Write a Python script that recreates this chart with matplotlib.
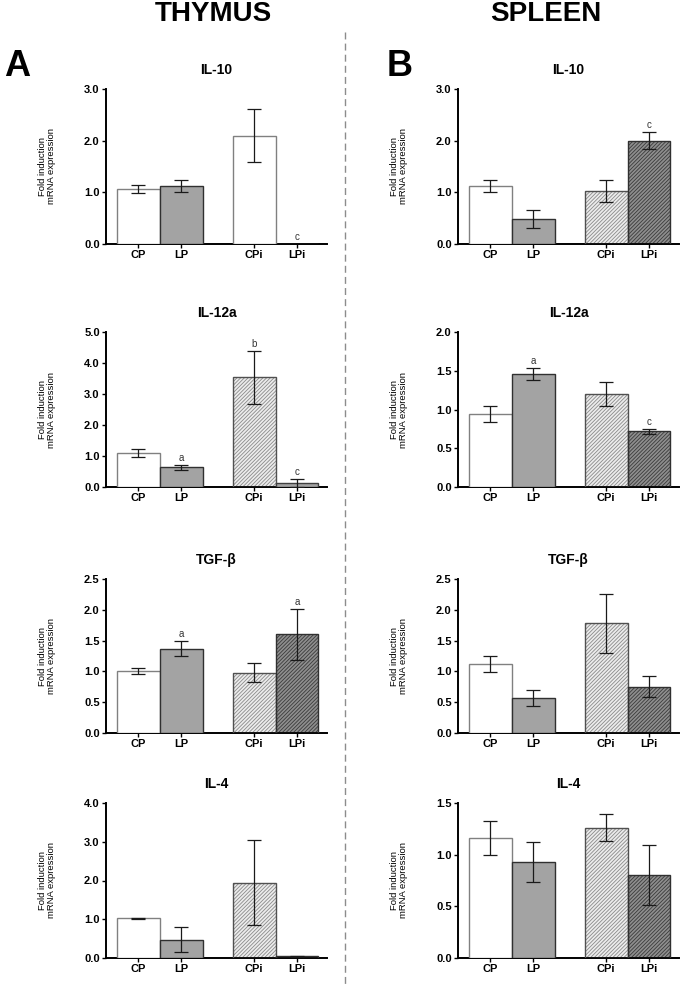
import matplotlib
matplotlib.use('Agg')
import matplotlib.pyplot as plt
import numpy as np

plt.rcParams['font.family'] = ['Liberation Sans', 'DejaVu Sans']
plt.rcParams['hatch.linewidth'] = 0.6

groups = ['CP', 'LP', 'CPi', 'LPi']
positions = [0, 1, 2.7, 3.7]

# thymus
thy_titles = ['IL-10', 'IL-12a', 'TGF-β', 'IL-4']
thy_means = [[1.07, 1.12, 2.10, 0.0],
             [1.09, 0.63, 3.54, 0.12],
             [1.00, 1.37, 0.98, 1.60],
             [1.02, 0.47, 1.94, 0.04]]
thy_errs = [[0.08, 0.12, 0.51, 0.0],
            [0.13, 0.07, 0.85, 0.13],
            [0.05, 0.12, 0.15, 0.41],
            [0.01, 0.32, 1.10, 0.02]]
thy_sig = [['', '', '', 'c'],
           ['', 'a', 'b', 'c'],
           ['', 'a', '', 'a'],
           ['', '', '', '']]
thy_ymax = [3.0, 5.0, 2.5, 4.0]
thy_ystep = [1.0, 1.0, 0.5, 1.0]

# spleen
spl_titles = ['IL-10', 'IL-12a', 'TGF-β', 'IL-4']
spl_means = [[1.12, 0.48, 1.02, 2.00],
             [0.94, 1.46, 1.20, 0.72],
             [1.12, 0.57, 1.78, 0.75],
             [1.16, 0.93, 1.26, 0.80]]
spl_errs = [[0.12, 0.17, 0.21, 0.17],
            [0.10, 0.08, 0.15, 0.03],
            [0.13, 0.13, 0.48, 0.17],
            [0.165, 0.19, 0.13, 0.29]]
spl_sig = [['', '', '', 'c'],
           ['', 'a', '', 'c'],
           ['', '', '', ''],
           ['', '', '', '']]
spl_ymax = [3.0, 2.0, 2.5, 1.5]
spl_ystep = [1.0, 0.5, 0.5, 0.5]

# bar styles: (face, hatch colour, hatch, outline)
base_styles = [('white', None, None, '#808080'),
               ('#a3a3a3', None, None, '#303030'),
               ('#ececec', '#8a8a8a', '/////////', '#505050'),
               ('#8e8e8e', '#3a3a3a', '/////////', '#303030')]
# a few bars in the thymus panels are drawn without hatching
overrides = {('thy', 0, 2): ('white', None, None, '#808080'),
             ('thy', 1, 3): ('#a3a3a3', None, None, '#404040')}

fig = plt.figure(figsize=(6.91, 9.89), dpi=100)
W, H = 691.0, 989.0

row_px = [(89, 244), (332, 487), (579, 733), (803, 958)]
col_px = [106, 458]
ax_w = 221


def draw_panel(ax, key, i, title, means, errs, sig, ymax, ystep):
    for j in range(4):
        face, hcol, hatch, edge = overrides.get((key, i, j), base_styles[j])
        if hatch:
            ax.bar(positions[j], means[j], width=1.0, color=face,
                   edgecolor=hcol, hatch=hatch, linewidth=0, zorder=2)
            ax.bar(positions[j], means[j], width=1.0, fill=False,
                   edgecolor=edge, linewidth=1.0, zorder=3)
        else:
            ax.bar(positions[j], means[j], width=1.0, color=face,
                   edgecolor=edge, linewidth=1.0, zorder=3)
        if errs[j] > 0:
            ax.errorbar(positions[j], means[j], yerr=errs[j], fmt='none',
                        ecolor='#1a1a1a', elinewidth=0.9, capsize=5,
                        capthick=0.9, zorder=4)
        if sig[j]:
            ax.annotate(sig[j], (positions[j], means[j] + errs[j]),
                        xytext=(0, 1.5), textcoords='offset points',
                        ha='center', va='bottom', fontsize=7,
                        color='#333333')
    ax.set_xlim(-0.75, 4.4)
    ax.set_ylim(0, ymax)
    ticks = np.arange(0, ymax + 1e-9, ystep)
    ax.set_yticks(ticks)
    ax.set_yticklabels(['%.1f' % v for v in ticks], fontsize=8, fontweight='bold')
    ax.set_xticks(positions)
    ax.set_xticklabels(groups, fontsize=8, fontweight='bold')
    for s in ['top', 'right']:
        ax.spines[s].set_visible(False)
    for s in ['left', 'bottom']:
        ax.spines[s].set_linewidth(1.4)
    ax.tick_params(axis='both', direction='out', length=3, width=1.0, pad=1.5)
    ax.set_title(title, fontsize=10, fontweight='bold', pad=11)


for c, (key, titles, means, errs, sig, ymax, ystep) in enumerate([
        ('thy', thy_titles, thy_means, thy_errs, thy_sig, thy_ymax, thy_ystep),
        ('spl', spl_titles, spl_means, spl_errs, spl_sig, spl_ymax, spl_ystep)]):
    for i in range(4):
        top, bot = row_px[i]
        ax = fig.add_axes([col_px[c] / W, 1 - bot / H, ax_w / W, (bot - top) / H])
        draw_panel(ax, key, i, titles[i], means[i], errs[i], sig[i], ymax[i], ystep[i])
        fig.text((col_px[c] - 59) / W, 1 - (top + bot) / 2 / H,
                 'Fold induction\nmRNA expression', rotation=90,
                 ha='center', va='center', fontsize=6.8, linespacing=1.0)

fig.text(213 / W, 1 - 14 / H, 'THYMUS', ha='center', va='center',
         fontsize=20, fontweight='bold')
fig.text(546 / W, 1 - 14 / H, 'SPLEEN', ha='center', va='center',
         fontsize=20, fontweight='bold')
fig.text(17 / W, 1 - 66 / H, 'A', ha='center', va='center',
         fontsize=26, fontweight='bold')
fig.text(400 / W, 1 - 66 / H, 'B', ha='center', va='center',
         fontsize=26, fontweight='bold')

fig.add_artist(plt.Line2D([345 / W, 345 / W], [1 - 32 / H, 1 - 985 / H],
                          color='#8c8c8c', linewidth=1.0, linestyle=(0, (5, 3))))

fig.savefig('out.png', dpi=100)
